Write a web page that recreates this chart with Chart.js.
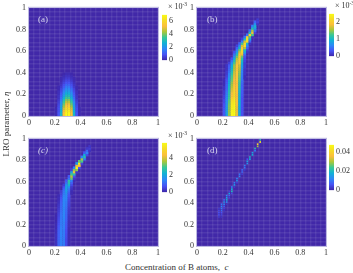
<!DOCTYPE html>
<html>
<head>
<meta charset="utf-8">
<script src="https://cdn.jsdelivr.net/npm/chart.js@4"></script>
<style>
  html, body { margin: 0; padding: 0; background: #fff; }
  body { width: 353px; height: 273px; position: relative; overflow: hidden; font-family: "Liberation Serif", serif; color: #333; }
  canvas { position: absolute; filter: blur(0.3px); }
  .note { position: absolute; white-space: nowrap; line-height: 1; }
  .tag { color: #d6d4ee; font-size: 9px; }
  .exp { font-size: 8px; }
  .exp sup { font-size: 5.5px; vertical-align: 3px; line-height: 0; }
  .axis { font-size: 9px; }
</style>
</head>
<body>
<canvas id="panelA"></canvas><canvas id="barA"></canvas>
<canvas id="panelB"></canvas><canvas id="barB"></canvas>
<canvas id="panelC"></canvas><canvas id="barC"></canvas>
<canvas id="panelD"></canvas><canvas id="barD"></canvas>

<div class="note tag" style="left:38px;top:15px">(a)</div>
<div class="note tag" style="left:207px;top:15px">(b)</div>
<div class="note tag" style="left:38px;top:146px;font-style:italic">(c)</div>
<div class="note tag" style="left:207px;top:146px">(d)</div>
<div class="note exp" style="left:168px;top:3px">× 10<sup>-3</sup></div>
<div class="note exp" style="left:335px;top:2px">× 10<sup>-3</sup></div>
<div class="note exp" style="left:168px;top:132px">× 10<sup>-3</sup></div>
<div class="note axis" style="left:125px;top:263px">Concentration of B atoms,&nbsp;&nbsp;<i>c</i></div>
<div class="note axis" style="left:6px;top:124px;transform:translate(-50%,-50%) rotate(-90deg)">LRO parameter, <i>η</i></div>

<script>
// axis labels
const axisLabels = [0, 0.2, 0.4, 0.6, 0.8, 1];
const barTicksA = [0, 2, 4, 6];
const barTicksB = [0, 1, 2];
const barTicksC = [0, 2, 4];
const barTicksD = [0, 0.02, 0.04];

// top of each colorbar
const barMaxA = [6.9];
const barMaxB = [2.5];
const barMaxC = [5.8];
const barMaxD = [0.048];

// parula colormap
const parulaStops = [0, 0.125, 0.25, 0.375, 0.5, 0.625, 0.75, 0.875, 1];
const parulaColors = ['#3e26a8', '#4752f4', '#2d87f7', '#11b1d6', '#37c897', '#abc739', '#fcbf3a', '#f5dc26', '#f9fb15'];

// the map is 50 x 50 cells. each row below: [first column, values...], rows go up from firstRow
const rowsAStart = 0;
const rowsA = [
  [10, 0.1, 0.9, 2.8, 5.4, 6.9, 6.9, 5.4, 2.8, 0.9, 0.1],
  [10, 0.1, 0.9, 2.7, 5.3, 6.8, 6.8, 5.3, 2.7, 0.9, 0.1],
  [10, 0.1, 0.8, 2.6, 5.0, 6.5, 6.5, 5.0, 2.6, 0.8, 0.1],
  [10, 0.1, 0.8, 2.4, 4.7, 6.1, 6.1, 4.7, 2.4, 0.8, 0.1],
  [10, 0, 0.7, 2.2, 4.2, 5.6, 5.6, 4.2, 2.2, 0.7, 0],
  [10, 0, 0.6, 2.0, 3.8, 5.0, 5.0, 3.8, 2.0, 0.6, 0],
  [10, 0, 0.5, 1.8, 3.4, 4.5, 4.5, 3.4, 1.8, 0.5, 0],
  [10, 0, 0.4, 1.5, 3.0, 4.0, 4.0, 3.0, 1.5, 0.4, 0],
  [10, 0, 0.3, 1.3, 2.6, 3.5, 3.5, 2.6, 1.3, 0.3, 0],
  [10, 0, 0.3, 1.1, 2.2, 3.0, 3.0, 2.2, 1.1, 0.3, 0],
  [10, 0, 0.2, 0.9, 1.9, 2.6, 2.6, 1.9, 0.9, 0.2, 0],
  [10, 0, 0.2, 0.7, 1.6, 2.2, 2.2, 1.6, 0.7, 0.2, 0],
  [10, 0, 0.1, 0.6, 1.3, 1.8, 1.8, 1.3, 0.6, 0.1, 0],
  [10, 0, 0.1, 0.4, 1.0, 1.5, 1.5, 1.0, 0.4, 0.1, 0],
  [10, 0, 0, 0.3, 0.8, 1.2, 1.2, 0.8, 0.3, 0, 0],
  [10, 0, 0, 0.2, 0.6, 0.9, 0.9, 0.6, 0.2, 0, 0],
  [10, 0, 0, 0.1, 0.4, 0.65, 0.65, 0.4, 0.1, 0, 0],
  [10, 0, 0, 0.1, 0.25, 0.45, 0.45, 0.25, 0.1, 0, 0],
  [10, 0, 0, 0, 0.15, 0.3, 0.3, 0.15, 0, 0, 0],
  [10, 0, 0, 0, 0.05, 0.15, 0.15, 0.05, 0, 0, 0]
];

const rowsBStart = 0;
const rowsB = [
  [10, 0.35, 0.8, 1.5, 2.45, 2.5, 1.8, 0.9, 0.3],
  [10, 0.35, 0.8, 1.5, 2.45, 2.5, 1.8, 0.9, 0.3],
  [10, 0.35, 0.8, 1.5, 2.45, 2.5, 1.8, 0.9, 0.3],
  [10, 0.35, 0.75, 1.45, 2.4, 2.5, 1.8, 0.9, 0.3],
  [10, 0.3, 0.75, 1.45, 2.35, 2.45, 1.8, 0.9, 0.3],
  [10, 0.3, 0.7, 1.4, 2.3, 2.4, 1.85, 0.95, 0.3],
  [10, 0.25, 0.7, 1.35, 2.25, 2.35, 1.85, 0.95, 0.3],
  [10, 0.25, 0.65, 1.3, 2.15, 2.3, 1.85, 0.95, 0.3],
  [10, 0.2, 0.65, 1.25, 2.05, 2.25, 1.85, 1.0, 0.3],
  [10, 0.2, 0.6, 1.2, 1.95, 2.2, 1.85, 1.0, 0.35],
  [10, 0.15, 0.55, 1.15, 1.85, 2.15, 1.85, 1.0, 0.35],
  [10, 0.15, 0.5, 1.1, 1.75, 2.1, 1.85, 1.05, 0.35],
  [10, 0.1, 0.45, 1.05, 1.7, 2.05, 1.9, 1.1, 0.4],
  [10, 0.1, 0.4, 1.0, 1.6, 2.0, 1.9, 1.15, 0.4],
  [10, 0.05, 0.4, 0.95, 1.55, 1.95, 1.9, 1.2, 0.4],
  [10, 0.05, 0.35, 0.9, 1.5, 1.9, 1.9, 1.25, 0.45],
  [10, 0.05, 0.3, 0.85, 1.4, 1.85, 1.95, 1.3, 0.5],
  [10, 0, 0.25, 0.75, 1.35, 1.8, 1.95, 1.35, 0.5, 0.05],
  [10, 0, 0.2, 0.65, 1.3, 1.75, 1.95, 1.4, 0.55, 0.05],
  [10, 0, 0.15, 0.6, 1.2, 1.7, 1.95, 1.45, 0.55, 0.1],
  [11, 0.15, 0.5, 1.1, 1.65, 1.95, 1.5, 0.6, 0.1],
  [11, 0.1, 0.45, 1.05, 1.6, 1.95, 1.6, 0.65, 0.1],
  [11, 0.1, 0.4, 0.95, 1.55, 1.95, 1.65, 0.75, 0.15],
  [11, 0.1, 0.35, 0.9, 1.5, 1.95, 1.7, 0.8, 0.15],
  [12, 0.2, 0.7, 1.3, 1.8, 1.95, 0.9, 0.15],
  [13, 0.5, 1.1, 1.7, 2.0, 1.05, 0.2],
  [13, 0.3, 0.9, 1.6, 2.05, 1.2, 0.25],
  [14, 0.7, 1.4, 2.1, 1.4, 0.3],
  [14, 0.5, 1.1, 1.95, 1.8, 0.5],
  [14, 0.3, 0.8, 1.7, 2.1, 0.8, 0.1],
  [15, 0.6, 1.4, 2.1, 1.1, 0.2],
  [15, 0.4, 1.0, 1.95, 1.6, 0.4],
  [15, 0.2, 0.7, 1.7, 2.2, 0.6],
  [16, 0.4, 1.3, 2.2, 1.0, 0.1],
  [17, 0.6, 1.7, 2.2, 0.4],
  [17, 0.2, 1.1, 2.2, 0.8],
  [18, 0.5, 2.1, 1.3, 0.1],
  [19, 0.5, 2.0, 1.3],
  [20, 1.1, 1.8, 0.2],
  [20, 0.5, 1.6, 0.5],
  [21, 1.1, 0.8],
  [21, 0.6, 1.0],
  [22, 0.7, 0.1],
  [22, 0.4, 0.2],
  [23, 0.15]
];

const rowsCStart = 0;
const rowsC = [
  [10, 0.2, 1.0, 1.4, 1.3, 0.6, 0.1],
  [10, 0.2, 1.0, 1.4, 1.3, 0.6, 0.1],
  [10, 0.2, 1.0, 1.4, 1.3, 0.6, 0.1],
  [10, 0.2, 0.95, 1.4, 1.3, 0.6, 0.1],
  [10, 0.2, 0.9, 1.4, 1.3, 0.65, 0.1],
  [10, 0.2, 0.9, 1.4, 1.3, 0.65, 0.1],
  [10, 0.15, 0.9, 1.4, 1.3, 0.7, 0.1],
  [10, 0.15, 0.85, 1.35, 1.3, 0.7, 0.1],
  [10, 0.1, 0.8, 1.35, 1.35, 0.75, 0.1],
  [10, 0.1, 0.75, 1.3, 1.35, 0.8, 0.15],
  [10, 0.1, 0.7, 1.3, 1.4, 0.85, 0.15],
  [10, 0.05, 0.65, 1.3, 1.4, 0.9, 0.15],
  [10, 0.05, 0.6, 1.25, 1.4, 0.95, 0.2],
  [10, 0.05, 0.55, 1.2, 1.45, 1.0, 0.2],
  [10, 0.05, 0.5, 1.2, 1.45, 1.0, 0.25],
  [10, 0, 0.45, 1.15, 1.45, 1.05, 0.3],
  [10, 0, 0.4, 1.1, 1.45, 1.1, 0.3],
  [10, 0, 0.35, 1.05, 1.45, 1.15, 0.35],
  [10, 0, 0.3, 1.0, 1.45, 1.2, 0.4],
  [10, 0, 0.25, 0.95, 1.45, 1.25, 0.45],
  [11, 0.2, 0.9, 1.45, 1.3, 0.5],
  [11, 0.15, 0.8, 1.45, 1.4, 0.55],
  [11, 0.15, 0.7, 1.45, 1.45, 0.6],
  [11, 0.1, 0.6, 1.4, 1.5, 0.7],
  [12, 0.5, 1.3, 1.6, 0.8, 0.1],
  [12, 0.4, 1.2, 1.8, 1.0, 0.1],
  [13, 1.0, 1.9, 1.2, 0.2],
  [13, 0.7, 1.9, 1.6, 0.3],
  [13, 0.4, 1.6, 2.3, 0.6],
  [14, 1.1, 2.6, 0.9],
  [14, 0.8, 2.7, 1.4, 0.1],
  [15, 1.2, 3.2, 0.3],
  [15, 0.8, 3.7, 0.7],
  [16, 3.0, 2.6],
  [16, 2.0, 4.2, 0.3],
  [16, 0.5, 3.5, 3.4],
  [17, 1.5, 5.6, 0.8],
  [18, 4.2, 4.4],
  [18, 1.8, 5.4, 0.5],
  [19, 3.2, 3.0],
  [20, 3.6, 1.3],
  [20, 1.4, 2.6],
  [21, 2.2, 0.6],
  [21, 0.8, 1.4],
  [22, 1.0, 0.2],
  [22, 0.3, 0.4],
  [23, 0.25]
];

const rowsDStart = 13;
const rowsD = [
  [8, 0.003, 0.002],
  [8, 0.005, 0.004],
  [8, 0.006, 0.006],
  [8, 0.005, 0.009, 0.002],
  [8, 0.003, 0.011, 0.004],
  [9, 0.012, 0.007],
  [9, 0.01, 0.012, 0.002],
  [10, 0.014, 0.012],
  [10, 0.008, 0.018],
  [11, 0.016, 0.004],
  [11, 0.012, 0.008],
  [12, 0.016, 0.005],
  [12, 0.004, 0.02],
  [13, 0.018],
  [13, 0.012, 0.003],
  [14, 0.015],
  [14, 0.011, 0.004],
  [15, 0.014],
  [15, 0.012],
  [16, 0.012],
  [16, 0.01, 0.003],
  [17, 0.009],
  [17, 0.008, 0.003],
  [18, 0.01],
  [18, 0.011],
  [19, 0.014],
  [19, 0.016],
  [19, 0.006, 0.018],
  [20, 0.02],
  [21, 0.018],
  [21, 0.016],
  [22, 0.012],
  [22, 0.022],
  [23, 0.03],
  [23, 0.04],
  [24, 0.046],
  [24, 0.022]
];

function hexToRgb(h) {
  return [parseInt(h.slice(1, 3), 16), parseInt(h.slice(3, 5), 16), parseInt(h.slice(5, 7), 16)];
}

function parula(t) {
  t = Math.max(0, Math.min(1, t));
  let i = 0;
  while (i < parulaStops.length - 2 && t > parulaStops[i + 1]) i++;
  const f = (t - parulaStops[i]) / (parulaStops[i + 1] - parulaStops[i]);
  const a = hexToRgb(parulaColors[i]);
  const b = hexToRgb(parulaColors[i + 1]);
  return `rgb(${a.map((v, k) => Math.round(v + (b[k] - v) * f)).join(',')})`;
}

function rowsToCells(rows, firstRow) {
  const cells = [];
  rows.forEach((row, r) => {
    row.slice(1).forEach((v, k) => {
      if (v > 0) cells.push({ x: (row[0] + k + 0.5) / 50, y: (firstRow + r + 0.5) / 50, v: v });
    });
  });
  return cells;
}

// background colour and thin frame of the map area, cells are softened while they draw
const mapFrame = {
  id: 'mapFrame',
  beforeDraw(chart) {
    const a = chart.chartArea;
    chart.ctx.fillStyle = '#4128a8';
    chart.ctx.fillRect(a.left, a.top, a.width, a.height);
  },
  beforeDatasetsDraw(chart, args, opts) {
    chart.ctx.filter = `blur(${opts.soften}px)`;
  },
  afterDatasetsDraw(chart) {
    chart.ctx.filter = 'none';
  },
  afterDraw(chart) {
    const a = chart.chartArea;
    chart.ctx.strokeStyle = '#bdb9e2';
    chart.ctx.lineWidth = 1;
    chart.ctx.strokeRect(a.left - 0.5, a.top - 0.5, a.width + 1, a.height + 1);
  }
};

const tickFont = { family: 'Liberation Serif', size: 8 };

function drawPanel(id, left, top, height, rows, firstRow, cmax, cellRadius, soften) {
  const canvas = document.getElementById(id);
  canvas.style.left = left + 'px';
  canvas.style.top = top + 'px';
  canvas.width = 153;
  canvas.height = height;
  canvas.style.width = '153px';
  canvas.style.height = height + 'px';

  const axisTicks = {
    stepSize: 0.04,
    autoSkip: false,
    maxRotation: 0,
    font: tickFont,
    color: '#333',
    callback: (v) => {
      const hit = axisLabels.find((l) => Math.abs(l - v) < 1e-6);
      return hit === undefined ? '' : String(hit);
    }
  };
  const stripes = { color: 'rgba(255,255,255,0.08)', lineWidth: 1.4, drawTicks: false };

  return new Chart(canvas, {
    type: 'scatter',
    data: {
      datasets: [{
        data: rowsToCells(rows, firstRow),
        pointStyle: 'rect',
        pointRadius: cellRadius,
        pointBorderWidth: 0,
        pointBackgroundColor: (ctx) => parula(ctx.raw.v / cmax),
        clip: 0
      }]
    },
    options: {
      responsive: false,
      animation: false,
      events: [],
      layout: { padding: { top: 6, right: 4, left: 0, bottom: 0 } },
      plugins: { legend: { display: false }, tooltip: { enabled: false }, mapFrame: { soften: soften } },
      scales: {
        x: {
          type: 'linear', min: 0, max: 1,
          afterFit: (s) => { s.height = 15; },
          ticks: Object.assign({ padding: 2 }, axisTicks),
          grid: stripes,
          border: { display: false }
        },
        y: {
          type: 'linear', min: 0, max: 1,
          afterFit: (s) => { s.width = 20; },
          ticks: Object.assign({ padding: 3 }, axisTicks),
          grid: stripes,
          border: { display: false }
        }
      }
    },
    plugins: [mapFrame]
  });
}

function drawBar(id, left, top, height, cmax, ticks) {
  const canvas = document.getElementById(id);
  canvas.style.left = left + 'px';
  canvas.style.top = top + 'px';
  canvas.width = 24;
  canvas.height = height + 8;
  canvas.style.width = '24px';
  canvas.style.height = (height + 8) + 'px';

  return new Chart(canvas, {
    type: 'bar',
    data: {
      labels: ['bar'],
      datasets: [{
        data: cmax,
        barPercentage: 1,
        categoryPercentage: 1,
        borderWidth: 0,
        backgroundColor: (ctx) => {
          const a = ctx.chart.chartArea;
          if (!a) return parulaColors[0];
          const g = ctx.chart.ctx.createLinearGradient(0, a.bottom, 0, a.top);
          parulaStops.forEach((s, i) => g.addColorStop(s, parulaColors[i]));
          return g;
        }
      }]
    },
    options: {
      responsive: false,
      animation: false,
      events: [],
      layout: { padding: { top: 4, bottom: 4, left: 0, right: 0 } },
      plugins: { legend: { display: false }, tooltip: { enabled: false } },
      scales: {
        x: { display: false },
        y: {
          position: 'right',
          min: 0,
          max: cmax[0],
          afterBuildTicks: (s) => { s.ticks = ticks.map((v) => ({ value: v })); },
          afterFit: (s) => { s.width = 19; },
          ticks: { font: tickFont, color: '#333', padding: 2, callback: (v) => String(v) },
          grid: { display: false, drawTicks: false },
          border: { display: false }
        }
      }
    }
  });
}

drawPanel('panelA', 9, 0, 131, rowsA, rowsAStart, barMaxA[0], 1.9, 0.6);
drawPanel('panelB', 177, 0, 131, rowsB, rowsBStart, barMaxB[0], 1.9, 0.6);
drawPanel('panelC', 9, 131, 130, rowsC, rowsCStart, barMaxC[0], 1.9, 0.4);
drawPanel('panelD', 177, 131, 130, rowsD, rowsDStart, barMaxD[0], 1.15, 0.2);

drawBar('barA', 162, 8, 51, barMaxA, barTicksA);
drawBar('barB', 329, 7, 48, barMaxB, barTicksB);
drawBar('barC', 162, 136, 55, barMaxC, barTicksC);
drawBar('barD', 329, 138, 51, barMaxD, barTicksD);
</script>
</body>
</html>
